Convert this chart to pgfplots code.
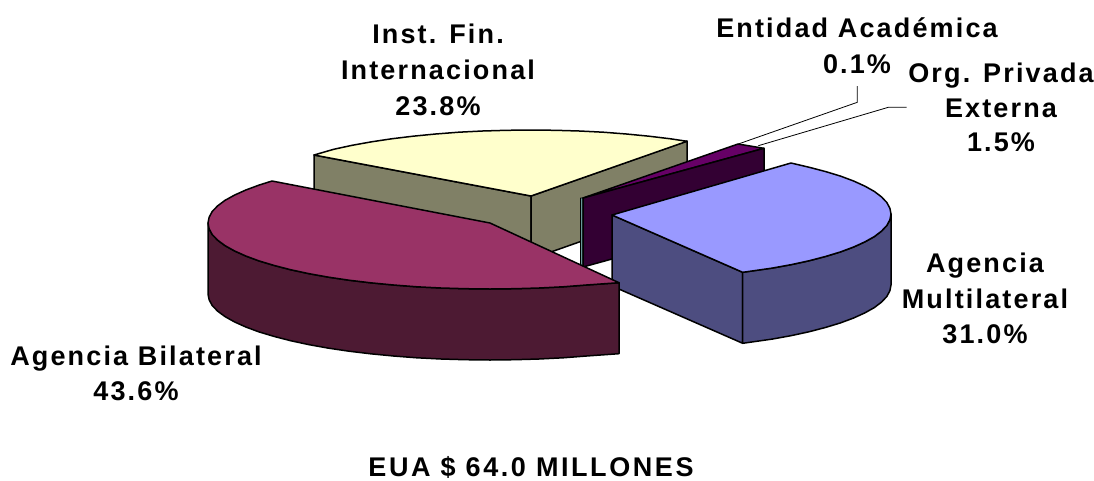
\documentclass[border=0pt]{standalone}
\usepackage{pgfplots}
\pgfplotsset{compat=1.18}
\usepackage{fontspec}
\setmainfont{Liberation Sans}[LetterSpace=8]
\definecolor{yel}{HTML}{FFFFCC}
\definecolor{oli}{HTML}{808066}
\definecolor{mar}{HTML}{993366}
\definecolor{marD}{HTML}{4D1A33}
\definecolor{blu}{HTML}{9999FF}
\definecolor{bluD}{HTML}{4D4D80}
\definecolor{pur}{HTML}{660066}
\definecolor{purD}{HTML}{330033}
\definecolor{sli}{HTML}{669999}
\newcommand{\lab}[3]{\node[anchor=base,inner sep=0pt,font=\fontsize{27}{30}\selectfont\bfseries] at (axis cs:#1,#2) {#3};}
\begin{document}
\begin{tikzpicture}
\begin{axis}[
  width=1094pt,height=480pt,scale only axis,hide axis,clip=false,
  xmin=0,xmax=1094,ymin=0,ymax=480,y dir=reverse,no markers,
  every axis plot/.append style={draw=black,line width=1.5pt,line join=round}]
% Inst. Fin. Internacional: side faces
\addplot[fill=oli] coordinates {(314,155)(531,196)(531,259)(314,218)} --cycle;
\addplot[fill=oli] coordinates {(531,196)(687,141)(687,204)(531,259)} --cycle;
% Inst. Fin. Internacional: top
\addplot[fill=yel] coordinates {(531,196)(314,155)(333.7,149.3)(351.6,145.4)(371,141.9)(391.5,138.8)(413,136.2)(435.6,134)(458.7,132.2)(482.4,131)(506.7,130.3)(531,130)(555.3,130.3)(579.4,131)(603.3,132.2)(626.4,134)(649,136.2)(670.5,138.8)(687,141.3)} --cycle;
% Entidad Academica sliver
\addplot[fill=sli,line width=0.9pt] coordinates {(580.5,198)(583,198)(583,266)(580.5,265)} --cycle;
% Org. Privada Externa
\addplot[fill=pur] coordinates {(583,198)(738,144)(764,148.3)} --cycle;
\addplot[fill=purD] coordinates {(583,198)(764,148.3)(764,217)(583,267)} --cycle;
% Agencia Multilateral
\addplot[fill=bluD] coordinates {(612,215)(742.7,272.3)(742.7,343.3)(612,286)} --cycle;
\addplot[fill=bluD] coordinates {(742.7,272.3)(772.1,268.1)(791.4,264.6)(809.3,260.7)(825.7,256.4)(840.5,251.9)(853.6,247)(864.8,241.9)(874.3,236.6)(881.5,231.1)(886.8,225.5)(889.9,219.7)(891,214)(891,285)(889.9,290.7)(886.8,296.5)(881.5,302.1)(874.3,307.6)(864.8,312.9)(853.6,318)(840.5,322.9)(825.7,327.4)(809.3,331.7)(791.4,335.6)(772.1,339.1)(742.7,343.3)} --cycle;
\addplot[fill=blu] coordinates {(612,215)(791,163)(809.3,167.3)(825.7,171.6)(840.5,176.1)(853.6,181)(864.8,186.1)(874.3,191.4)(881.5,196.9)(886.8,202.5)(889.9,208.3)(891,214)(889.9,219.7)(886.8,225.5)(881.5,231.1)(874.3,236.6)(864.8,241.9)(853.6,247)(840.5,251.9)(825.7,256.4)(809.3,260.7)(791.4,264.6)(772.1,268.1)(742.7,272.3)} --cycle;
% Agencia Bilateral
\addplot[fill=marD] coordinates {(208,223)(209.1,228.7)(212.2,234.5)(217.6,240.1)(225,245.6)(234.5,250.9)(245.8,256)(259,260.9)(274,265.4)(290.6,269.7)(308.7,273.6)(328.1,277.1)(349,280.2)(370.7,282.8)(393.6,285)(417,286.8)(441,288)(465.5,288.7)(490,289)(514.5,288.7)(539,288)(563,286.8)(586.4,285)(619,282.7)(619,353.7)(586.4,356)(563,357.8)(539,359)(514.5,359.7)(490,360)(465.5,359.7)(441,359)(417,357.8)(393.6,356)(370.7,353.8)(349,351.2)(328.1,348.1)(308.7,344.6)(290.6,340.7)(274,336.4)(259,331.9)(245.8,327)(234.5,321.9)(225,316.6)(217.6,311.1)(212.2,305.5)(209.1,299.7)(208,294)} --cycle;
\addplot[fill=mar] coordinates {(490,223)(272,181)(259,185.1)(245.8,190)(234.5,195.1)(224.9,200.4)(217.6,205.9)(212.2,211.5)(209.1,217.3)(208,223)(209.1,228.7)(212.2,234.5)(217.6,240.1)(225,245.6)(234.5,250.9)(245.8,256)(259,260.9)(274,265.4)(290.6,269.7)(308.7,273.6)(328.1,277.1)(349,280.2)(370.7,282.8)(393.6,285)(417,286.8)(441,288)(465.5,288.7)(490,289)(514.5,288.7)(539,288)(563,286.8)(586.4,285)(619,282.7)} --cycle;
% Leader lines
\addplot[line width=0.8pt] coordinates {(857.3,86)(857.3,102.3)(738.3,144)};
\addplot[line width=0.8pt] coordinates {(906.7,107.3)(888.3,107.3)(758.3,145.7)};
% Labels
\lab{438}{43.5}{Inst. Fin.}
\lab{438}{79.5}{Internacional}
\lab{438}{115}{23.8\%}
\lab{857}{37}{Entidad Académica}
\lab{857}{73}{0.1\%}
\lab{1001}{82}{Org. Privada}
\lab{1001}{117}{Externa}
\lab{1001}{151}{1.5\%}
\lab{985}{272.5}{Agencia}
\lab{985}{308}{Multilateral}
\lab{985}{343.5}{31.0\%}
\lab{136}{365}{Agencia Bilateral}
\lab{136}{400.5}{43.6\%}
\lab{531}{476}{\addfontfeature{LetterSpace=9.5}EUA \$ 64.0 MILLONES}
\end{axis}
\pgfresetboundingbox
\path[use as bounding box] (current axis.south west) rectangle (current axis.north east);
\end{tikzpicture}
\end{document}
